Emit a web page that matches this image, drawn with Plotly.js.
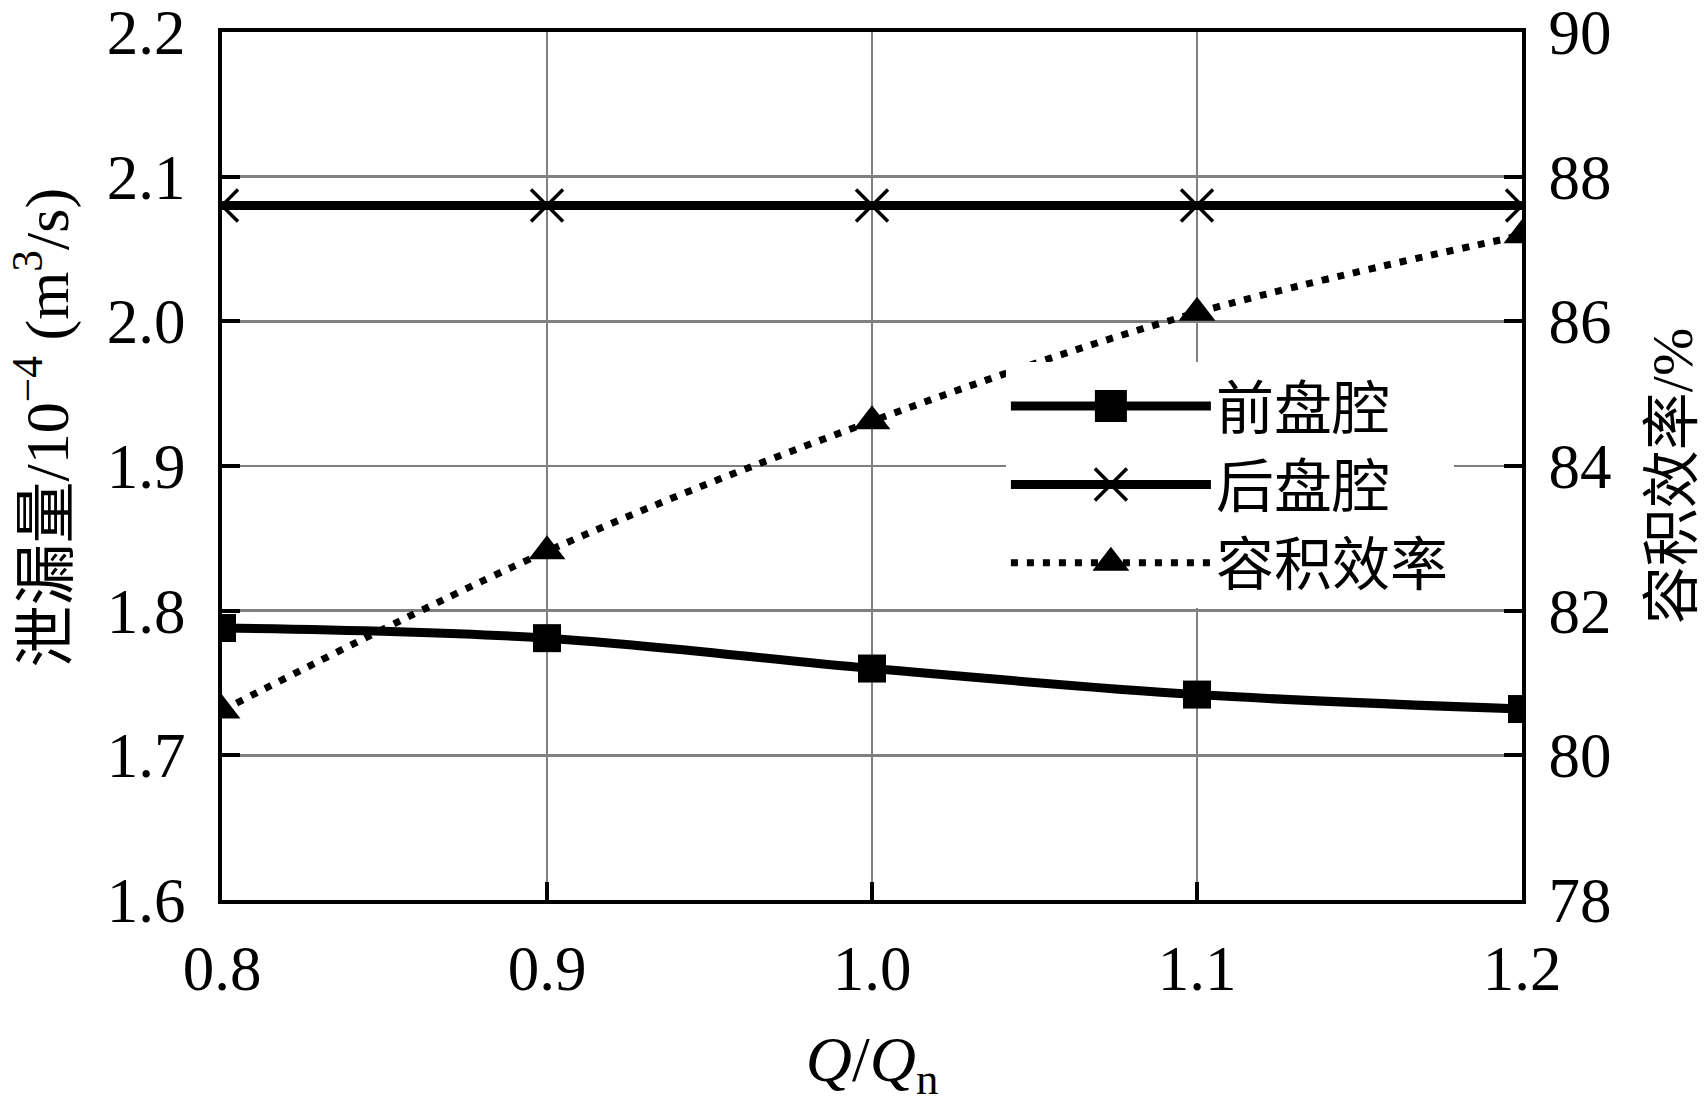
<!DOCTYPE html>
<html>
<head>
<meta charset="utf-8">
<script src="https://cdn.plot.ly/plotly-3.0.1.min.js"></script>
<style>
    html, body { margin: 0; padding: 0; background: #fff; }
    #graph { width: 1705px; height: 1104px; }
</style>
</head>
<body>
<div id="graph"></div>
<script>
// values
const flowRatio = [0.8, 0.9, 1.0, 1.1, 1.2];
const frontLeak = [1.788, 1.781, 1.760, 1.742, 1.732];
const rearLeak = [2.08, 2.08, 2.08, 2.08, 2.08];
const volEff = [80.62, 82.82, 84.62, 86.12, 87.19];

const seriesNames = ["前盘腔", "后盘腔", "容积效率"];
const xTicks = [0.8, 0.9, 1.0, 1.1, 1.2];
const yTicks = [1.6, 1.7, 1.8, 1.9, 2.0, 2.1, 2.2];
const y2Ticks = [78, 80, 82, 84, 86, 88, 90];

const FONT = "'Liberation Serif', 'Times New Roman', 'Noto Sans CJK SC', serif";
const GRID = "#808080";

function initPlot() {
    const traces = [
        {
            name: seriesNames[0],
            x: flowRatio,
            y: frontLeak,
            mode: 'lines+markers',
            line: { color: 'black', width: 9, shape: 'spline' },
            marker: { symbol: 'square', size: 28, color: 'black' },
        },
        {
            name: seriesNames[1],
            x: flowRatio,
            y: rearLeak,
            mode: 'lines+markers',
            line: { color: 'black', width: 9, shape: 'spline' },
            marker: { symbol: 'x-thin', size: 32, color: 'black', line: { color: 'black', width: 3.5 } },
        },
        {
            name: seriesNames[2],
            x: flowRatio,
            y: volEff,
            yaxis: 'y2',
            mode: 'lines+markers',
            line: { color: 'black', width: 7, dash: '7px,9px', shape: 'spline' },
            marker: { symbol: 'triangle-up', size: 32, color: 'black' },
        },
    ];

    const layout = {
        width: 1705,
        height: 1104,
        margin: { l: 222, r: 183, t: 32, b: 204 },
        paper_bgcolor: 'white',
        plot_bgcolor: 'white',
        font: { family: FONT, size: 63, color: 'black' },
        showlegend: true,
        legend: {
            x: 0.603,
            y: 0.62,
            xanchor: 'left',
            yanchor: 'top',
            bgcolor: 'white',
            borderwidth: 0,
            itemwidth: 200,
            entrywidth: 420,
            entrywidthmode: 'pixels',
            font: { family: FONT, size: 58, color: 'black' },
            tracegroupgap: 0,
        },
        xaxis: {
            range: [0.8, 1.2],
            tickvals: xTicks,
            ticktext: xTicks.map(v => v.toFixed(1)),
            ticks: 'inside',
            ticklen: 18,
            tickwidth: 4,
            tickcolor: 'black',
            ticklabelstandoff: 10,
            ticklabeloverflow: 'allow',
            showline: true,
            linewidth: 4,
            linecolor: 'black',
            mirror: true,
            showgrid: true,
            gridcolor: GRID,
            gridwidth: 2.5,
            zeroline: false,
            title: {
                text: '<i>Q</i>/<i>Q</i><sub>n</sub>',
                font: { family: FONT, size: 64 },
                standoff: 42,
            },
        },
        yaxis: {
            range: [1.6, 2.2],
            tickvals: yTicks,
            ticktext: yTicks.map(v => v.toFixed(1)),
            ticks: 'inside',
            ticklen: 18,
            tickwidth: 4,
            tickcolor: 'black',
            ticklabelstandoff: 20,
            ticklabeloverflow: 'allow',
            showline: true,
            linewidth: 4,
            linecolor: 'black',
            showgrid: true,
            gridcolor: GRID,
            gridwidth: 2.5,
            zeroline: false,
        },
        yaxis2: {
            overlaying: 'y',
            side: 'right',
            range: [78, 90],
            tickvals: y2Ticks,
            ticks: 'inside',
            ticklen: 18,
            tickwidth: 4,
            tickcolor: 'black',
            ticklabelstandoff: 10,
            ticklabeloverflow: 'allow',
            showline: true,
            linewidth: 4,
            linecolor: 'black',
            showgrid: false,
            zeroline: false,
        },
        annotations: [
            {
                // left axis title
                text: '泄漏量/10<sup>−4</sup> (m<sup>3</sup>/s)',
                xref: 'paper', yref: 'paper',
                x: -0.138, y: 0.544,
                xanchor: 'center', yanchor: 'middle',
                textangle: -90,
                showarrow: false,
                font: { family: FONT, size: 62 },
            },
            {
                // right axis title
                text: '容积效率/%',
                xref: 'paper', yref: 'paper',
                x: 1.116, y: 0.488,
                xanchor: 'center', yanchor: 'middle',
                textangle: -90,
                showarrow: false,
                font: { family: FONT, size: 58 },
            },
        ],
    };

    const config = {
        displaylogo: false,
        displayModeBar: false,
        staticPlot: true,
    };

    Plotly.newPlot('graph', traces, layout, config).then(gd => {
        // legend markers are capped at 16px by plotly, scale them up to match the plot
        gd.querySelectorAll('.legend .legendpoints path.scatterpts').forEach(p => {
            const t = p.getAttribute('transform') || '';
            p.setAttribute('transform', t + ' scale(2)');
            p.style.strokeWidth = '1.8px';
        });
    });
}

document.addEventListener('DOMContentLoaded', () => {
    initPlot();
});
</script>
</body>
</html>
